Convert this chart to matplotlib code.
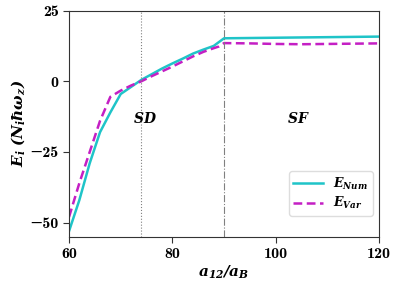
import numpy as np
import matplotlib
matplotlib.use('Agg')
import matplotlib.pyplot as plt

plt.rcParams['mathtext.fontset'] = 'custom'
plt.rcParams['mathtext.rm'] = 'cmr10'
plt.rcParams['mathtext.it'] = 'cmmi10'
plt.rcParams['mathtext.bfit'] = 'DejaVu Serif:italic:bold'
plt.rcParams['axes.unicode_minus'] = True

# interaction strength a12/aB
a12_num = [60, 62, 64, 66, 68, 70, 72, 74, 76, 78, 80, 82, 84, 86, 88, 90,
           95, 100, 105, 110, 115, 120]
E_num = [-53, -42, -29, -18, -11, -4.5, -2, 0.5, 2.5, 4.5, 6.3, 8, 9.8, 11.2,
         12.5, 15.2, 15.3, 15.4, 15.5, 15.6, 15.7, 15.8]

a12_var = [60, 62, 64, 66, 68, 70, 72, 74, 76, 78, 80, 82, 84, 86, 88, 89, 90,
           95, 100, 105, 110, 115, 120]
E_var = [-48, -36, -25, -14, -5.5, -3.3, -1.5, 0, 1.8, 3.5, 5.2, 7, 8.8, 10.4,
         11.7, 12.3, 13.5, 13.4, 13.2, 13.1, 13.2, 13.3, 13.4]

x_sd = 74
x_sf = 90
xticks = [60, 80, 100, 120]
yticks = [-50, -25, 0, 25]

fig = plt.figure(figsize=(3.99, 2.86), dpi=100)
ax = fig.add_axes([0.173, 0.172, 0.777, 0.791])

ax.plot(a12_num, E_num, color='#1fc4c8', lw=1.8, label=r'$\mathbfit{E_{Num}}$')
ax.plot(a12_var, E_var, color='#c41fc4', lw=1.8, ls=(0, (3.5, 1.8)),
        label=r'$\mathbfit{E_{Var}}$')

ax.axvline(x_sd, color='gray', lw=0.8, ls=':')
ax.axvline(x_sf, color='gray', lw=0.8, ls='-.')

ax.text(74.7, -13, r'$\mathbfit{SD}$', fontsize=10, ha='center', va='center')
ax.text(104.4, -13, r'$\mathbfit{SF}$', fontsize=10, ha='center', va='center')

ax.set_xlim(60, 120)
ax.set_ylim(-55, 25)
ax.set_xticks(xticks)
ax.set_yticks(yticks)
tickfont = dict(family=['cmb10', 'DejaVu Serif'], size=11.5)
ax.set_xticklabels([str(t) for t in xticks], fontdict=tickfont)
ax.set_yticklabels([str(t).replace('-', '\u2212') for t in yticks],
                   fontdict=tickfont)

ax.set_xlabel(r'$\mathbfit{a_{12}/a_B}$', fontsize=11, labelpad=2)
ax.set_ylabel(r'$\mathbfit{E_i\ (N_i\hbar\omega_z)}$', fontsize=11, labelpad=2)

for s in ax.spines.values():
    s.set_color('#333333')
ax.tick_params(direction='out', length=4, width=0.8, color='#333333')

ax.legend(loc='lower right', fontsize=9, bbox_to_anchor=(1.0, 0.065),
          handlelength=2.4, labelspacing=0.3, borderpad=0.35, framealpha=1,
          edgecolor='#dddddd')

fig.savefig('out.png', dpi=100)
